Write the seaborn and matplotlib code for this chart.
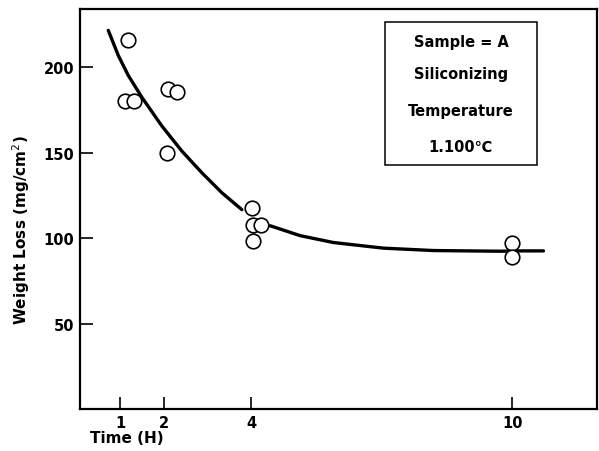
import matplotlib
matplotlib.use("Agg")
import matplotlib.pyplot as plt
import seaborn as sns
import pandas as pd
from matplotlib.patches import Rectangle

# Data
time_pts = [1.17, 1.10, 1.31, 2.10, 2.31, 2.08, 4.03, 4.04, 4.24, 4.05, 10.0, 10.0]
loss_pts = [215.6, 180.4, 180.4, 187.2, 185.6, 150.0, 117.6, 107.8, 107.8, 98.4, 97.4, 88.8]

curve1_x = [0.72, 0.95, 1.18, 1.49, 1.95, 2.41, 2.87, 3.33, 3.79]
curve1_y = [221.5, 206.8, 195.1, 182.4, 165.6, 150.9, 138.2, 126.5, 116.6]
curve2_x = [4.44, 5.13, 5.89, 7.04, 8.19, 9.72, 10.26, 10.72]
curve2_y = [107.2, 101.4, 97.4, 94.1, 92.7, 92.3, 92.5, 92.5]

x_ticks = [1, 2, 4, 10]
y_ticks = [50, 100, 150, 200]
box_lines = ["Sample = A", "Siliconizing", "Temperature", "1.100\u2103"]

sns.set_style("ticks")
plt.rcParams['font.family'] = ['DejaVu Sans']
plt.rcParams['text.color'] = 'black'
plt.rcParams['xtick.color'] = 'black'
plt.rcParams['ytick.color'] = 'black'

fig = plt.figure(figsize=(5.99, 4.52), dpi=100)
ax = fig.add_axes([80/599, 1-410/452, 517/599, 400/452])

pts = pd.DataFrame({"t": time_pts, "w": loss_pts})
c1 = pd.DataFrame({"t": curve1_x, "w": curve1_y})
c2 = pd.DataFrame({"t": curve2_x, "w": curve2_y})

sns.lineplot(data=c1, x="t", y="w", ax=ax, color="black", lw=2.4, sort=False, zorder=2)
sns.lineplot(data=c2, x="t", y="w", ax=ax, color="black", lw=2.4, sort=False, zorder=2)
sns.scatterplot(data=pts, x="t", y="w", ax=ax, marker="o", s=110,
                facecolor="white", edgecolor="black", linewidth=1.2, zorder=3)

ax.set_xlim(0.07, 11.95)
ax.set_ylim(0, 234)
ax.set_xticks(x_ticks)
ax.set_xticklabels([str(v) for v in x_ticks])
ax.set_yticks(y_ticks)
ax.set_yticklabels([str(v) for v in y_ticks])
ax.tick_params(direction="in", length=9, width=1.2, labelsize=10.5, pad=4, colors="black")
for lab in ax.get_xticklabels() + ax.get_yticklabels():
    lab.set_fontweight("bold")
for s in ax.spines.values():
    s.set_visible(True)
    s.set_linewidth(1.6)
    s.set_color("black")
ax.set_xlabel("")
ax.set_ylabel("")

fig.text(90/599, 1-439/452, "Time (H)", fontsize=11, fontweight="bold", ha="left", va="center")
fig.text(21/599, 1-230/452, "Weight Loss (mg/cm$^2$)", fontsize=11, fontweight="bold",
         rotation=90, ha="center", va="center")

# annotation box
x0 = (385-80)/517; x1 = (537-80)/517
y1 = (410-23)/400; y0 = (410-166)/400
ax.add_patch(Rectangle((x0, y0), x1-x0, y1-y0, transform=ax.transAxes,
                       fill=False, edgecolor="black", lw=1.1, zorder=4))
ys_px = [43, 75, 112, 147]
for txt, yp in zip(box_lines, ys_px):
    ax.text((461-80)/517, (410-yp)/400, txt, transform=ax.transAxes, ha="center",
            va="center", fontsize=10.5, fontweight="bold")

fig.savefig("out.png", dpi=100)
